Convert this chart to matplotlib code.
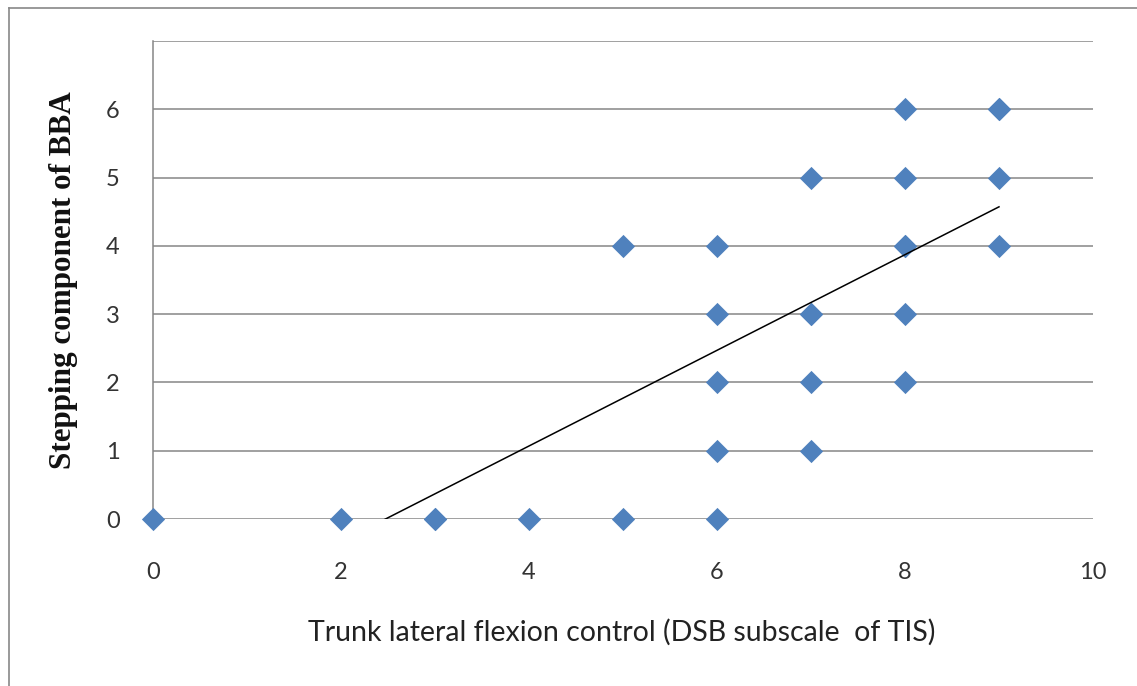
import numpy as np
import matplotlib
matplotlib.use("Agg")
import matplotlib.pyplot as plt
from matplotlib.lines import Line2D

# Data (duplicates included where points overlap)
tlfc = [0, 2, 3, 3, 4, 5, 6, 6, 7, 6, 7, 8, 6, 7, 7, 8, 5, 6, 8, 8, 9, 7, 8, 9, 8, 9, 9]
stepping = [0, 0, 0, 0, 0, 0, 0, 1, 1, 2, 2, 2, 3, 3, 3, 3, 4, 4, 4, 4, 4, 5, 5, 5, 6, 6, 6]
x_ticks = [0, 2, 4, 6, 8, 10]
y_ticks = [0, 1, 2, 3, 4, 5, 6, 7]
y_tick_labels = ["0", "1", "2", "3", "4", "5", "6", ""]

W, H = 1137, 686
fig = plt.figure(figsize=(W / 100, H / 100), dpi=100)
ax = fig.add_axes([153 / W, 1 - 519 / H, (1093 - 153) / W, (519 - 41) / H])

x = np.array(tlfc, dtype=float)
y = np.array(stepping, dtype=float)
ax.scatter(x, y, marker="D", s=140, color="#4F81BD", zorder=3, linewidths=0, clip_on=False)

# linear trendline (least squares)
slope, intercept = np.polyfit(x, y, 1)
xs = np.linspace(x.min(), x.max(), 200)
ax.plot(xs, slope * xs + intercept, color="black", lw=1.1, zorder=4)

ax.set_xlim(0, 10)
ax.set_ylim(0, 7)
ax.set_xticks(x_ticks)
ax.set_yticks(y_ticks)
ax.set_yticklabels(y_tick_labels)
ax.grid(axis="y", color="#868686", lw=1.1)
ax.set_axisbelow(True)
for s in ["top", "right", "bottom"]:
    ax.spines[s].set_visible(False)
ax.spines["left"].set_color("#868686")
ax.spines["left"].set_linewidth(1.1)
ax.tick_params(axis="both", length=0, labelsize=17, colors="#333333")
ax.tick_params(axis="x", pad=31)
ax.tick_params(axis="y", pad=24)
for lab in ax.get_xticklabels() + ax.get_yticklabels():
    lab.set_fontfamily("Lato")

fig.text(622 / W, 1 - 632 / H, "Trunk lateral flexion control (DSB subscale  of TIS)",
         ha="center", va="center", fontsize=20.5, family="Lato", color="#222222")
fig.text(64 / W, 1 - 280 / H, "Stepping component of BBA", rotation=90,
         ha="center", va="center", fontsize=22.4, family="Liberation Serif",
         fontweight="bold", color="#111111")

# outer chart border (left and top visible)
fig.add_artist(Line2D([9 / W, 9 / W], [0, 1 - 8 / H], color="#888888", lw=1.2))
fig.add_artist(Line2D([9 / W, 1], [1 - 8 / H, 1 - 8 / H], color="#888888", lw=1.2))

fig.savefig("out.png", dpi=100)
